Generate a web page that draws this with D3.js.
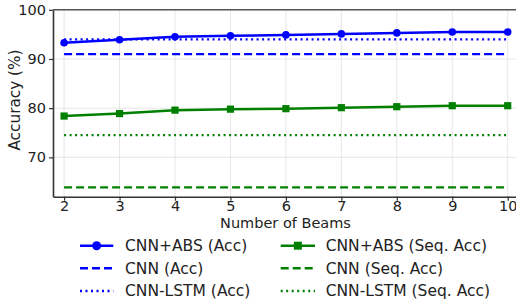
<!DOCTYPE html>
<html><head><meta charset="utf-8">
<script src="https://cdn.jsdelivr.net/npm/d3@7"></script>
<style>body{margin:0;background:#fff}svg{display:block}text{font-family:"DejaVu Sans",sans-serif;fill:#222}</style>
</head><body><svg id="c" width="516" height="301"></svg>
<script>
const beams = [2,3,4,5,6,7,8,9,10];
const absAcc = [93.3,93.9,94.5,94.7,94.9,95.1,95.3,95.5,95.5];
const absSeq = [78.4,78.9,79.6,79.8,79.9,80.1,80.3,80.5,80.5];
const cnnAcc = 91.0, lstmAcc = 94.0, cnnSeq = 63.9, lstmSeq = 74.5;
const yTicks = [70,80,90,100];
const legendLabels = ["CNN+ABS (Acc)","CNN (Acc)","CNN-LSTM (Acc)","CNN+ABS (Seq. Acc)","CNN (Seq. Acc)","CNN-LSTM (Seq. Acc)"];

const svg = d3.select("#c");
const x = d3.scaleLinear().domain([1.8,10.2]).range([53,518.8]);
const y = d3.scaleLinear().domain([62,100]).range([196.7,9.8]);
const blue = "#0000ff", green = "#008000";

// grid
svg.append("g").selectAll("line").data(beams).join("line")
  .attr("x1",d=>x(d)).attr("x2",d=>x(d)).attr("y1",y(62)).attr("y2",y(100))
  .attr("stroke","#e6e6e6").attr("stroke-width",1);
svg.append("g").selectAll("line").data(yTicks).join("line")
  .attr("x1",x(1.8)).attr("x2",x(10.2)).attr("y1",d=>y(d)).attr("y2",d=>y(d))
  .attr("stroke","#e6e6e6").attr("stroke-width",1);

const hline = (v,col,dash)=>svg.append("line").attr("x1",x(2)).attr("x2",x(10))
  .attr("y1",y(v)).attr("y2",y(v)).attr("stroke",col).attr("stroke-width",2.2).attr("stroke-dasharray",dash);
hline(cnnAcc,blue,"8,4");
hline(lstmAcc,blue,"2,3.5");
hline(cnnSeq,green,"8,4");
hline(lstmSeq,green,"2,3.5");

const line = d3.line().x((d,i)=>x(beams[i])).y(d=>y(d));
svg.append("path").datum(absAcc).attr("d",line).attr("fill","none").attr("stroke",blue).attr("stroke-width",2.5);
svg.append("g").selectAll("circle").data(absAcc).join("circle")
  .attr("cx",(d,i)=>x(beams[i])).attr("cy",d=>y(d)).attr("r",3.8).attr("fill",blue);
svg.append("path").datum(absSeq).attr("d",line).attr("fill","none").attr("stroke",green).attr("stroke-width",2.5);
svg.append("g").selectAll("rect").data(absSeq).join("rect")
  .attr("x",(d,i)=>x(beams[i])-3.6).attr("y",d=>y(d)-3.6).attr("width",7.2).attr("height",7.2).attr("fill",green);

// axes
const xa = svg.append("g").attr("transform",`translate(0,${y(62)})`)
  .call(d3.axisBottom(x).tickValues(beams).tickFormat(d3.format("d")).tickSize(4).tickPadding(0).tickSizeOuter(0));
const ya = svg.append("g").attr("transform",`translate(${x(1.8)},0)`)
  .call(d3.axisLeft(y).tickValues(yTicks).tickSize(4).tickPadding(3).tickSizeOuter(0));
[xa,ya].forEach(a=>{a.select(".domain").attr("stroke","#333").attr("stroke-width",1.6);
  a.selectAll(".tick line").attr("stroke","#333").attr("stroke-width",1.2);
  a.selectAll(".tick text").attr("font-size",14.5).attr("fill","#222").style("font-family","DejaVu Sans");});
svg.append("line").attr("x1",x(1.8)).attr("x2",x(10.2)).attr("y1",y(100)).attr("y2",y(100)).attr("stroke","#555").attr("stroke-width",1.6);

svg.append("text").attr("x",285.5).attr("y",228).attr("text-anchor","middle").attr("font-size",14.5).text("Number of Beams");
svg.append("text").attr("transform","translate(19.5,100) rotate(-90)").attr("text-anchor","middle").attr("font-size",15.3).text("Accuracy (%)");

// legend
const rowsY = [245.7,268.3,291];
const items = [
 {c:blue,dash:null,m:"circle"},{c:blue,dash:"8,4"},{c:blue,dash:"2,3.5"},
 {c:green,dash:null,m:"square"},{c:green,dash:"8,4"},{c:green,dash:"2,3.5"}];
items.forEach((it,i)=>{
  const col = Math.floor(i/3), row = i%3;
  const x0 = col?280.7:80, x1 = col?315:113.3, tx = col?325.7:125, yy = rowsY[row];
  const g = svg.append("g");
  g.append("line").attr("x1",x0).attr("x2",x1).attr("y1",yy).attr("y2",yy).attr("stroke",it.c).attr("stroke-width",2.5).attr("stroke-dasharray",it.dash);
  const mx=(x0+x1)/2;
  if(it.m==="circle") g.append("circle").attr("cx",mx).attr("cy",yy).attr("r",4.5).attr("fill",it.c);
  if(it.m==="square") g.append("rect").attr("x",mx-4).attr("y",yy-4).attr("width",8).attr("height",8).attr("fill",it.c);
  g.append("text").attr("x",tx).attr("y",yy).attr("dy","0.35em").attr("font-size",15.5).text(legendLabels[i]);
});
</script></body></html>
